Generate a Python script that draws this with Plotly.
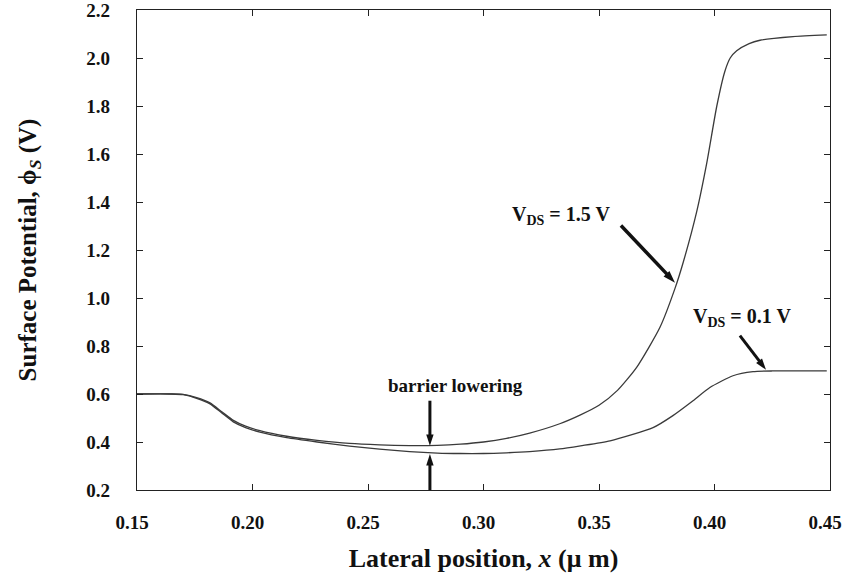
import plotly.graph_objects as go

# Surface potential vs lateral position
x_15 = [0.150, 0.165, 0.170, 0.1758, 0.1816, 0.1867, 0.1917, 0.197, 0.2032, 0.2148,
        0.228, 0.242, 0.255, 0.268, 0.280, 0.290, 0.300, 0.310, 0.320, 0.333,
        0.342, 0.350, 0.358, 0.3663, 0.3764, 0.3829, 0.3865, 0.3923, 0.3966,
        0.4010, 0.4045, 0.4068, 0.4096, 0.4150, 0.4197, 0.434, 0.4486]
phi_15 = [0.600, 0.600, 0.598, 0.585, 0.563, 0.526, 0.490, 0.466, 0.447, 0.424,
          0.407, 0.394, 0.388, 0.385, 0.386, 0.391, 0.400, 0.415, 0.437, 0.476,
          0.513, 0.553, 0.615, 0.711, 0.878, 1.040, 1.150, 1.360, 1.560,
          1.800, 1.945, 2.000, 2.030, 2.060, 2.074, 2.089, 2.096]

x_01 = [0.150, 0.165, 0.170, 0.1758, 0.1816, 0.1867, 0.1917, 0.197, 0.2032, 0.2148,
        0.228, 0.242, 0.255, 0.268, 0.280, 0.290, 0.300, 0.310, 0.320, 0.333,
        0.342, 0.3548, 0.3734, 0.382, 0.3907, 0.398, 0.408, 0.4167, 0.425, 0.4486]
phi_01 = [0.600, 0.600, 0.597, 0.582, 0.559, 0.521, 0.484, 0.460, 0.441, 0.418,
          0.400, 0.383, 0.370, 0.360, 0.354, 0.352, 0.352, 0.355, 0.360, 0.371,
          0.384, 0.405, 0.460, 0.510, 0.572, 0.627, 0.676, 0.693, 0.696, 0.696]

x_ticks = [0.15, 0.20, 0.25, 0.30, 0.35, 0.40, 0.45]
x_ticklabels = ["0.15", "0.20", "0.25", "0.30", "0.35", "0.40", "0.45"]
y_ticks = [0.2, 0.4, 0.6, 0.8, 1.0, 1.2, 1.4, 1.6, 1.8, 2.0, 2.2]
y_ticklabels = ["0.2", "0.4", "0.6", "0.8", "1.0", "1.2", "1.4", "1.6", "1.8", "2.0", "2.2"]

# annotation arrows: (tail x, tail y) -> (tip x, tip y)
arrow_15 = dict(x=[0.3595, 0.3829], y=[1.302, 1.064])
arrow_01 = dict(x=[0.411, 0.4223], y=[0.843, 0.701])
arrow_bl_down = dict(x=[0.2768, 0.2768], y=[0.572, 0.384])
arrow_bl_up = dict(x=[0.2768, 0.2768], y=[0.200, 0.350])

FONT = "Liberation Serif, Times New Roman, serif"
LINE = "#3a3a3a"

fig = go.Figure()
fig.add_trace(go.Scatter(x=x_15, y=phi_15, mode="lines", name="VDS = 1.5 V",
                         line=dict(color=LINE, width=1.3, shape="spline", smoothing=0.6)))
fig.add_trace(go.Scatter(x=x_01, y=phi_01, mode="lines", name="VDS = 0.1 V",
                         line=dict(color=LINE, width=1.3, shape="spline", smoothing=0.6)))

for arr, w, s in [(arrow_15, 3.5, 13), (arrow_01, 3, 12),
                  (arrow_bl_down, 3, 12), (arrow_bl_up, 3, 12)]:
    fig.add_trace(go.Scatter(
        x=arr["x"], y=arr["y"], mode="lines+markers", hoverinfo="skip",
        line=dict(color="#111", width=w),
        marker=dict(symbol="arrow", size=s, angleref="previous", color="#111"),
        cliponaxis=False,
    ))

axis_common = dict(
    showline=True, linecolor="#222", linewidth=1.2, mirror="ticks",
    ticks="inside", ticklen=6, tickwidth=1, tickcolor="#222",
    showgrid=False, zeroline=False, ticklabeloverflow="allow", automargin=False,
    tickfont=dict(family=FONT, size=19, color="#111", weight="bold"),
)

fig.update_xaxes(range=[0.15, 0.45], tickvals=x_ticks, ticktext=x_ticklabels,
                 ticklabelstandoff=15, ticklabelshift=-5,
                 title=dict(text="Lateral position, <i>x</i> (μ m)", standoff=16,
                            font=dict(family=FONT, size=26, color="#111", weight="bold")),
                 **axis_common)
fig.update_yaxes(range=[0.2, 2.2], tickvals=y_ticks, ticktext=y_ticklabels,
                 ticklabelstandoff=22,
                 title=dict(text="Surface Potential, ϕ<sub><i>S</i></sub> (V)", standoff=42,
                            font=dict(family=FONT, size=25, color="#111", weight="bold")),
                 **axis_common)

ann_font = dict(family=FONT, size=20, color="#111", weight="bold")
annotations = [
    dict(x=0.3335, y=1.344, xref="x", yref="y", text="V<sub>DS</sub> = 1.5 V",
         showarrow=False, font=ann_font, xanchor="center", yanchor="middle"),
    dict(x=0.412, y=0.918, xref="x", yref="y", text="V<sub>DS</sub> = 0.1 V",
         showarrow=False, font=ann_font, xanchor="center", yanchor="middle"),
    dict(x=0.2877, y=0.634, xref="x", yref="y", text="barrier lowering",
         showarrow=False, font=dict(family=FONT, size=19, color="#111", weight="bold"),
         xanchor="center", yanchor="middle"),
]

fig.update_layout(
    width=843, height=584,
    margin=dict(l=137, r=13, t=10, b=94),
    paper_bgcolor="white", plot_bgcolor="white",
    showlegend=False,
    annotations=annotations,
)

fig.write_html("out.html")
